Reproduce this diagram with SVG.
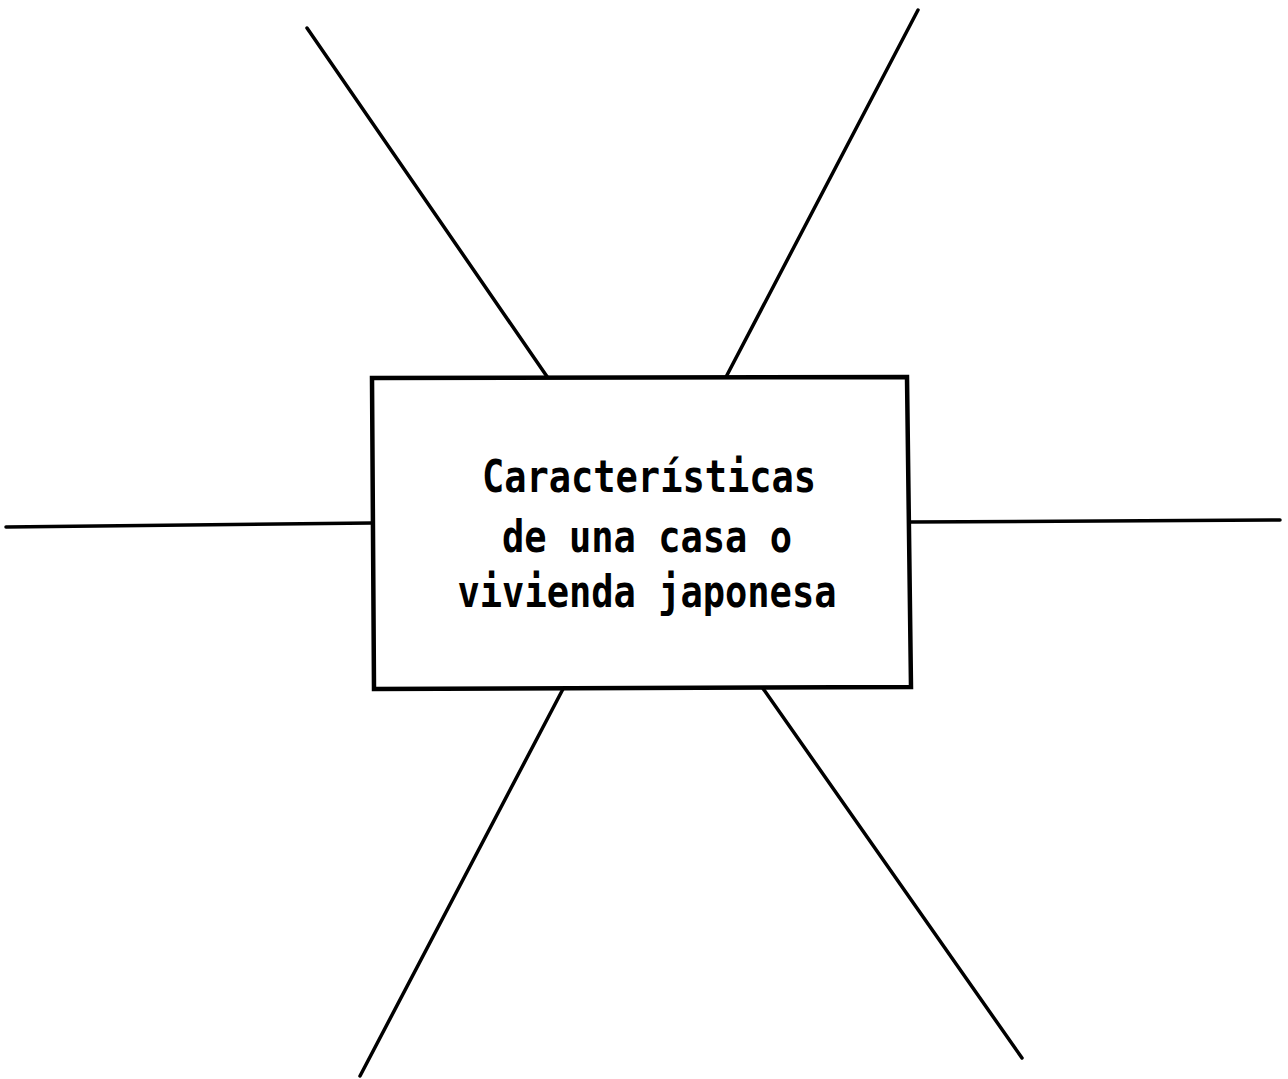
<svg xmlns="http://www.w3.org/2000/svg" width="1288" height="1079" viewBox="0 0 1288 1079">
<style>
.spoke{stroke:#000;stroke-width:3.5;fill:none;stroke-linecap:round}
.box{stroke:#000;stroke-width:4.5;fill:#fff;stroke-linejoin:miter}
.lbl{font-family:"DejaVu Sans Mono","Liberation Mono",monospace;font-size:45px;font-weight:bold;fill:#000;text-anchor:middle}
</style>
<rect width="1288" height="1079" fill="#fff"/>
<g id="connectors">
<line class="spoke" x1="307" y1="28" x2="548" y2="378"/>
<line class="spoke" x1="918" y1="10" x2="726" y2="377"/>
<line class="spoke" x1="6" y1="527" x2="372" y2="523"/>
<line class="spoke" x1="910" y1="522" x2="1280" y2="520"/>
<line class="spoke" x1="563" y1="689" x2="360" y2="1076"/>
<line class="spoke" x1="762" y1="687" x2="1022" y2="1058"/>
</g>
<g id="center">
<polygon class="box" points="372,378 907,377 911,687 374,689"/>
<text class="lbl" x="649" y="492" textLength="334" lengthAdjust="spacingAndGlyphs">Características</text>
<text class="lbl" x="647" y="552" textLength="290" lengthAdjust="spacingAndGlyphs">de una casa o</text>
<text class="lbl" x="647" y="607" textLength="379" lengthAdjust="spacingAndGlyphs">vivienda japonesa</text>
</g>
</svg>
